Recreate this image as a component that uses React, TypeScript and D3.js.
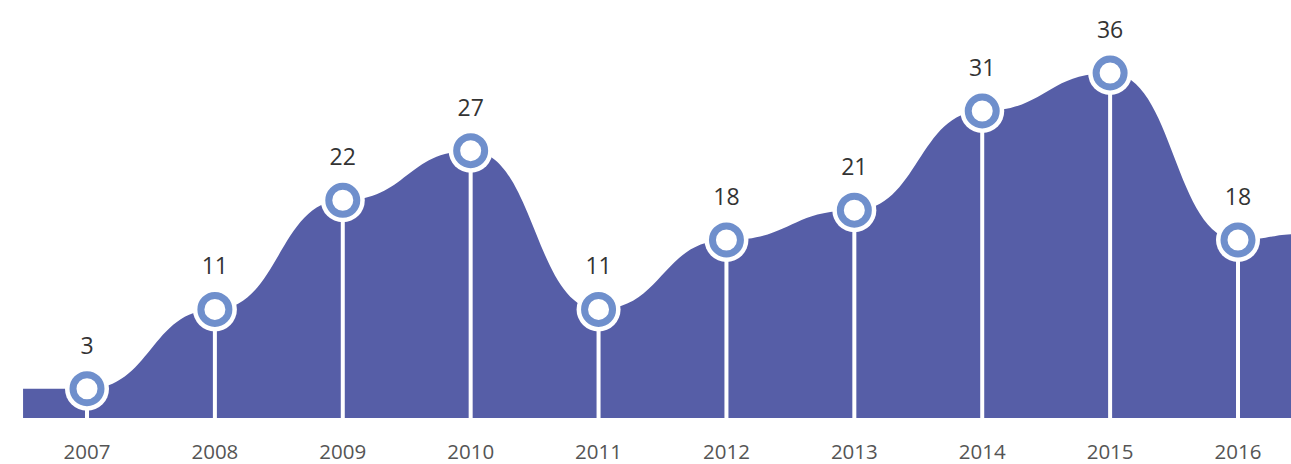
import * as d3 from "d3";

// ─── Data ─────────────────────────────────────────────────────────────────────

const YEARS = ["2007", "2008", "2009", "2010", "2011", "2012", "2013", "2014", "2015", "2016"];
const VALUES = [3, 11, 22, 27, 11, 18, 21, 31, 36, 18];
// area continues half a step past the first / last year
const EDGE_VALUES = [3, 18.6];

// ─── Palette ──────────────────────────────────────────────────────────────────

const AREA = "#565ea7";
const RING = "#6f8fcc";
const LABEL = "#333333";
const AXIS = "#555555";
const FONT = "'Open Sans', sans-serif";

const W = 1291;
const H = 464;
const BASE = 418;

export default function App() {
  const x = d3.scalePoint<string>().domain(YEARS).range([87, 1238]);
  const step = x.step();
  // top of the chart is squeezed a little above 31
  const y = d3.scaleLinear().domain([0, 31, 36]).range([418.5, 111, 73]);

  const pts: [number, number][] = [
    [x(YEARS[0])! - step / 2, EDGE_VALUES[0]],
    ...YEARS.map((yr, i) => [x(yr)!, VALUES[i]] as [number, number]),
    [x(YEARS[YEARS.length - 1])! + step / 2, EDGE_VALUES[1]],
  ];

  const area = d3
    .area<[number, number]>()
    .x((d) => d[0])
    .y0(BASE)
    .y1((d) => y(d[1]))
    .curve(d3.curveBumpX);

  return (
    <div
      style={{
        position: "absolute",
        left: 0,
        top: 0,
        width: W,
        height: H,
        overflow: "hidden",
        background: "#fff",
      }}
    >
      <svg width={W} height={H} style={{ display: "block" }}>
        <path d={area(pts)!} fill={AREA} />

        {YEARS.map((yr, i) => {
          const cx = x(yr)!;
          const cy = y(VALUES[i]);
          return (
            <g key={yr}>
              <line x1={cx} x2={cx} y1={cy} y2={BASE} stroke="#fff" strokeWidth={4} />
              <circle cx={cx} cy={cy} r={22} fill="#fff" />
              <circle cx={cx} cy={cy} r={14} fill="#fff" stroke={RING} strokeWidth={7} />
              <text
                x={cx}
                y={cy - 35}
                textAnchor="middle"
                fontFamily={FONT}
                fontSize={23}
                fill={LABEL}
              >
                {VALUES[i]}
              </text>
              <text
                x={cx}
                y={459}
                textAnchor="middle"
                fontFamily={FONT}
                fontSize={20.5}
                fill={AXIS}
              >
                {yr}
              </text>
            </g>
          );
        })}
      </svg>
    </div>
  );
}
